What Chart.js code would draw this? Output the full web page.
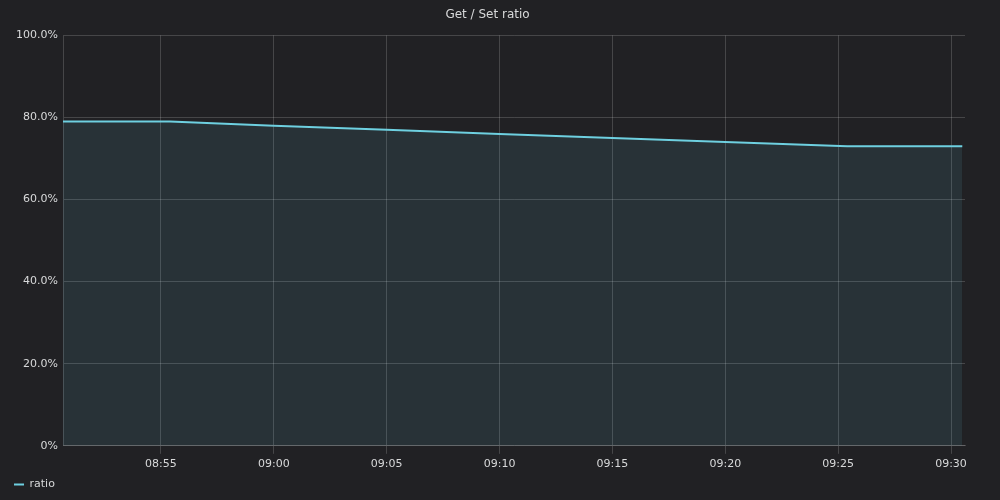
<!DOCTYPE html>
<html>
<head>
<meta charset="utf-8">
<script src="https://cdn.jsdelivr.net/npm/chart.js@4"></script>
<style>
  body { margin: 0; background: #212124; }
  canvas { display: block; }
</style>
</head>
<body>
<canvas id="chart" width="1000" height="500"></canvas>
<script>
// minutes after 08:00
const times = [50.66, 55.4, 60, 65, 70, 75, 80, 85.4, 90.5];
const ratio = [79, 79, 78, 77, 76, 75, 74, 73, 73];
const xTicks = [55, 60, 65, 70, 75, 80, 85, 90];
const yTicks = [0, 20, 40, 60, 80, 100];

const points = times.map((t, i) => ({ x: t, y: ratio[i] }));

function fmtTime(m) {
	let h = 8 + Math.floor(m / 60);
	let mm = Math.round(m % 60);
	return String(h).padStart(2, "0") + ":" + String(mm).padStart(2, "0");
}

const grid = "rgba(255,255,255,0.17)";
Chart.defaults.font.family = "'DejaVu Sans', sans-serif";
Chart.defaults.font.size = 11;
Chart.defaults.color = "#d8d9da";

new Chart(document.getElementById("chart"), {
	type: "line",
	data: {
		datasets: [{
			label: "ratio",
			data: points,
			borderColor: "#6ed0e0",
			backgroundColor: "rgba(110,208,224,0.1)",
			borderWidth: 2,
			fill: "origin",
			pointRadius: 0,
			tension: 0,
		}],
	},
	options: {
		responsive: false,
		animation: false,
		layout: { padding: { left: 10, right: 35, top: 0, bottom: 0 } },
		plugins: {
			title: {
				display: true,
				text: "Get / Set ratio",
				color: "#d8d9da",
				font: { size: 12, weight: "normal" },
				padding: { top: 8, bottom: 13 },
			},
			legend: {
				position: "bottom",
				align: "start",
				labels: {
					boxWidth: 10,
					boxHeight: 2,
					padding: 4,
					color: "#d8d9da",
					generateLabels: (chart) => [{
						text: "ratio",
						fillStyle: "#6ed0e0",
						strokeStyle: "#6ed0e0",
						lineWidth: 0,
						fontColor: "#d8d9da",
						datasetIndex: 0,
					}],
				},
			},
			tooltip: { enabled: false },
		},
		scales: {
			x: {
				type: "linear",
				min: times[0],
				max: 90.62,
				grid: { color: grid },
				border: { color: grid },
				afterBuildTicks: (s) => { s.ticks = xTicks.map((v) => ({ value: v })); },
				ticks: { callback: (v) => fmtTime(v), maxRotation: 0, padding: 4 },
			},
			y: {
				min: 0,
				max: 100,
				grid: { color: grid, drawTicks: false },
				border: { color: grid },
				afterBuildTicks: (s) => { s.ticks = yTicks.map((v) => ({ value: v })); },
				afterFit: (s) => { s.width = 53; },
				ticks: { callback: (v) => (v === 0 ? "0%" : v.toFixed(1) + "%"), padding: 5 },
			},
		},
	},
});
</script>
</body>
</html>
